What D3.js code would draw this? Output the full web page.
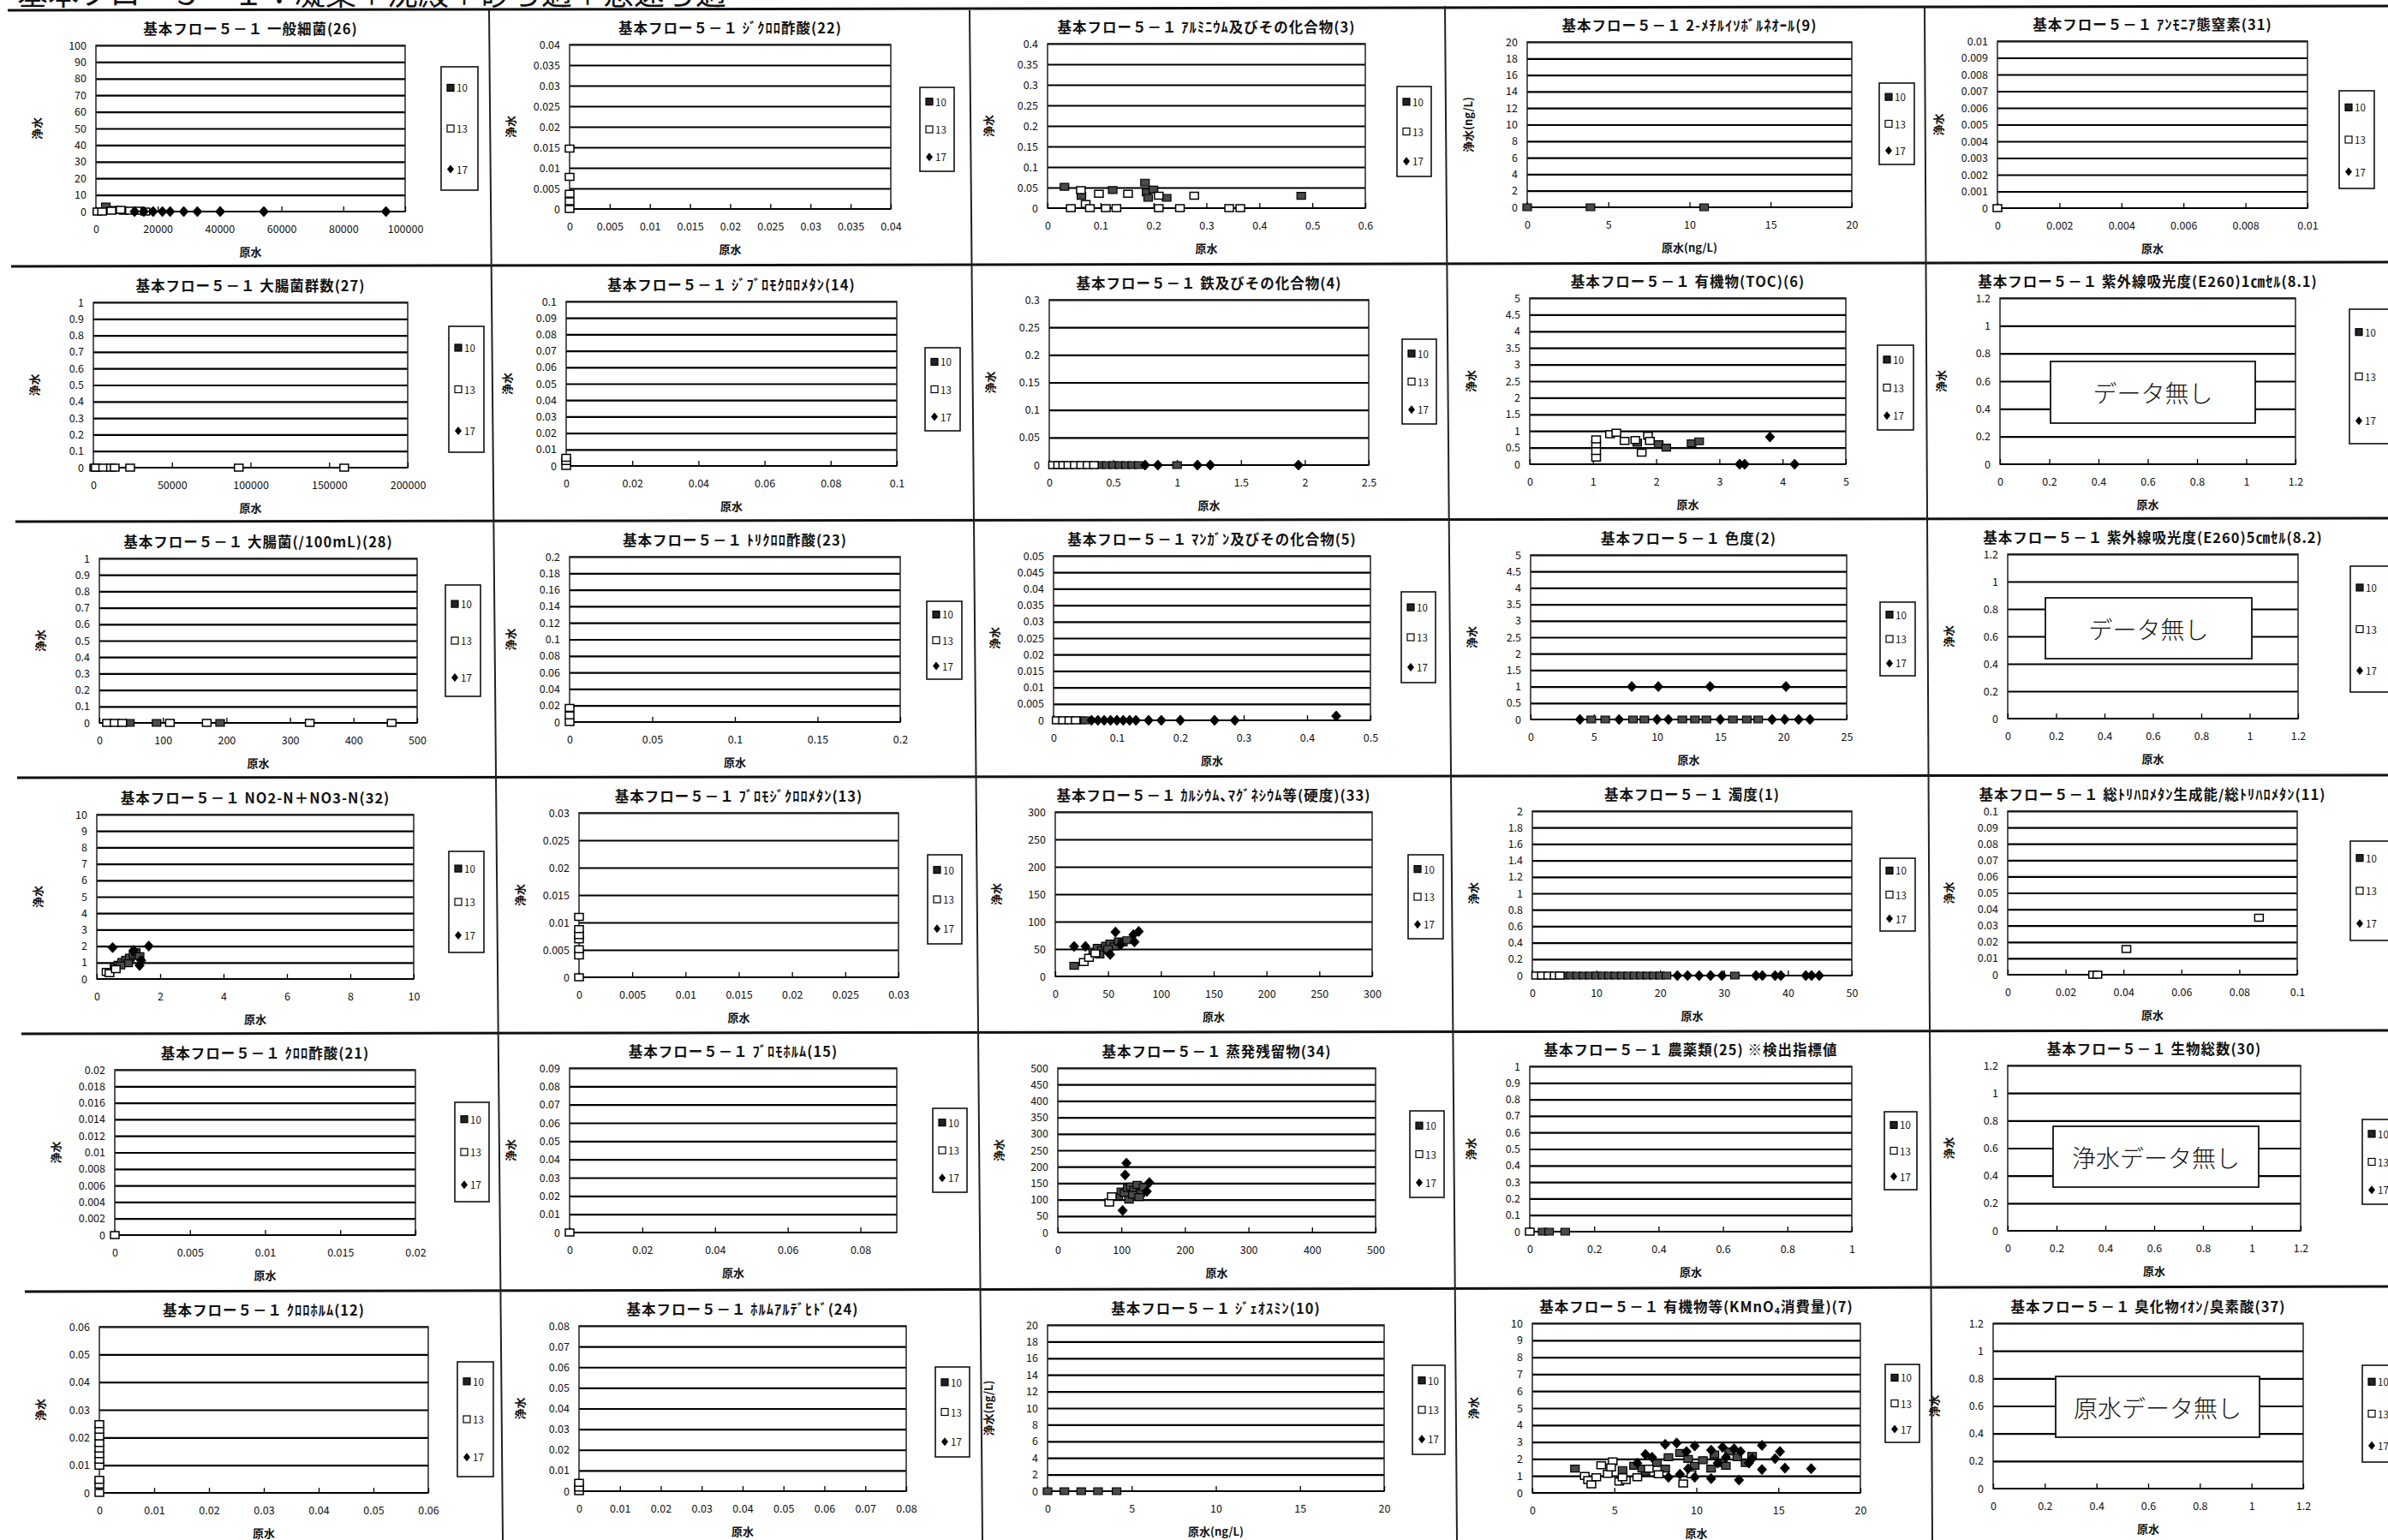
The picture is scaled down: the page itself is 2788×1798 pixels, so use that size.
<!DOCTYPE html>
<html><head><meta charset="utf-8">
<script src="https://cdn.jsdelivr.net/npm/d3@7"></script>
<style>
body{margin:0;background:#fff;}
text{font-family:"Noto Sans CJK JP","Noto Sans",sans-serif;fill:#111;}
</style></head><body>
<svg id="c" width="2788" height="1798" xmlns="http://www.w3.org/2000/svg"></svg>
<script>
// ---------------- DATA ----------------
const pageTitle = "基本フロー５－１：凝集＋沈殿＋砂ろ過＋急速ろ過";
const legendLabels = ["10", "13", "17"];

const titles = [
  "基本フロー５－１ 一般細菌(26)", "基本フロー５－１ ｼﾞｸﾛﾛ酢酸(22)", "基本フロー５－１ ｱﾙﾐﾆｳﾑ及びその化合物(3)", "基本フロー５－１ 2-ﾒﾁﾙｲｿﾎﾞﾙﾈｵｰﾙ(9)", "基本フロー５－１ ｱﾝﾓﾆｱ態窒素(31)",
  "基本フロー５－１ 大腸菌群数(27)", "基本フロー５－１ ｼﾞﾌﾞﾛﾓｸﾛﾛﾒﾀﾝ(14)", "基本フロー５－１ 鉄及びその化合物(4)", "基本フロー５－１ 有機物(TOC)(6)", "基本フロー５－１ 紫外線吸光度(E260)1㎝ｾﾙ(8.1)",
  "基本フロー５－１ 大腸菌(/100mL)(28)", "基本フロー５－１ ﾄﾘｸﾛﾛ酢酸(23)", "基本フロー５－１ ﾏﾝｶﾞﾝ及びその化合物(5)", "基本フロー５－１ 色度(2)", "基本フロー５－１ 紫外線吸光度(E260)5㎝ｾﾙ(8.2)",
  "基本フロー５－１ NO2-N＋NO3-N(32)", "基本フロー５－１ ﾌﾞﾛﾓｼﾞｸﾛﾛﾒﾀﾝ(13)", "基本フロー５－１ ｶﾙｼｳﾑ､ﾏｸﾞﾈｼｳﾑ等(硬度)(33)", "基本フロー５－１ 濁度(1)", "基本フロー５－１ 総ﾄﾘﾊﾛﾒﾀﾝ生成能/総ﾄﾘﾊﾛﾒﾀﾝ(11)",
  "基本フロー５－１ ｸﾛﾛ酢酸(21)", "基本フロー５－１ ﾌﾞﾛﾓﾎﾙﾑ(15)", "基本フロー５－１ 蒸発残留物(34)", "基本フロー５－１ 農薬類(25) ※検出指標値", "基本フロー５－１ 生物総数(30)",
  "基本フロー５－１ ｸﾛﾛﾎﾙﾑ(12)", "基本フロー５－１ ﾎﾙﾑｱﾙﾃﾞﾋﾄﾞ(24)", "基本フロー５－１ ｼﾞｪｵｽﾐﾝ(10)", "基本フロー５－１ 有機物等(KMnO₄消費量)(7)", "基本フロー５－１ 臭化物ｲｵﾝ/臭素酸(37)"
];
const xTitles = ["原水","原水","原水","原水(ng/L)","原水", "原水","原水","原水","原水","原水", "原水","原水","原水","原水","原水",
  "原水","原水","原水","原水","原水", "原水","原水","原水","原水","原水", "原水","原水","原水(ng/L)","原水","原水"];
const yTitles = ["浄水","浄水","浄水","浄水(ng/L)","浄水", "浄水","浄水","浄水","浄水","浄水", "浄水","浄水","浄水","浄水","浄水",
  "浄水","浄水","浄水","浄水","浄水", "浄水","浄水","浄水","浄水","浄水", "浄水","浄水","浄水(ng/L)","浄水","浄水"];
const xMax  = [100000,0.04,0.6,20,0.01, 200000,0.1,2.5,5,1.2, 500,0.2,0.5,25,1.2, 10,0.03,300,50,0.1, 0.02,0.09,500,1,1.2, 0.06,0.08,20,20,1.2];
const xStep = [20000,0.005,0.1,5,0.002, 50000,0.02,0.5,1,0.2, 100,0.05,0.1,5,0.2, 2,0.005,50,10,0.02, 0.005,0.02,100,0.2,0.2, 0.01,0.01,5,5,0.2];
const yMax  = [100,0.04,0.4,20,0.01, 1,0.1,0.3,5,1.2, 1,0.2,0.05,5,1.2, 10,0.03,300,2,0.1, 0.02,0.09,500,1,1.2, 0.06,0.08,20,10,1.2];
const yStep = [10,0.005,0.05,2,0.001, 0.1,0.01,0.05,0.5,0.2, 0.1,0.02,0.005,0.5,0.2, 1,0.005,50,0.2,0.01, 0.002,0.01,50,0.1,0.2, 0.01,0.01,2,1,0.2];
const noDataText = {9:"データ無し", 14:"データ無し", 24:"浄水データ無し", 29:"原水データ無し"};

// series per panel: [x(原水), y(浄水)]
const ippan10 = [[3200,3],[6000,1],[9000,0.5]];
const ippan13 = [[500,0],[2000,0],[5000,0.5],[8000,1],[11000,0.5],[14000,0.5],[16000,0]];
const ippan17 = [[12500,0],[15500,0],[18500,0],[21500,0],[24000,0],[28400,0],[32800,0],[40200,0],[54300,0],[93800,0]];
const dca13 = [[0,0],[0,0.0019],[0,0.0037],[0,0.0078],[0,0.0147]];
const al10 = [[0.032,0.052],[0.064,0.03],[0.123,0.044],[0.184,0.062],[0.187,0.038],[0.19,0.025],[0.2,0.045],[0.225,0.025],[0.479,0.03]];
const al13 = [[0.044,0],[0.063,0.044],[0.072,0.01],[0.08,0],[0.097,0.035],[0.11,0],[0.13,0],[0.152,0.035],[0.21,0],[0.21,0.03],[0.25,0],[0.277,0.03],[0.343,0],[0.364,0]];
const mib10 = [[0,0],[3.9,0],[10.9,0]];
const nh413 = [[0,0]];
const coli10 = [[500,0],[2000,0]];
const coli13 = [[1500,0],[6300,0],[11200,0],[13600,0],[23400,0],[92500,0],[159600,0]];
const dbcm13 = [[0,0],[0,0.003],[0,0.005]];
const fe10 = [[0.4,0],[0.45,0],[0.5,0],[0.55,0],[0.6,0],[0.65,0],[0.7,0],[1.0,0]];
const fe13 = [[0.03,0],[0.07,0],[0.11,0],[0.15,0],[0.2,0],[0.25,0],[0.3,0],[0.35,0]];
const fe17 = [[0.75,0],[0.85,0],[1.16,0],[1.26,0],[1.95,0]];
const toc10 = [[1.7,0.65],[2.04,0.6],[2.16,0.5],[2.56,0.63],[2.68,0.69]];
const toc13 = [[1.05,0.2],[1.05,0.4],[1.05,0.6],[1.05,0.75],[1.27,0.9],[1.37,0.95],[1.5,0.7],[1.67,0.73],[1.77,0.35],[1.87,0.86],[1.9,0.7]];
const toc17 = [[3.32,0],[3.4,0],[3.8,0.82],[4.19,0]];
const ecoli10 = [[48,0],[90,0],[190,0]];
const ecoli13 = [[12,0],[24,0],[36,0],[111,0],[169,0],[331,0],[460,0]];
const tca13 = [[0,0],[0,0.008],[0,0.017]];
const mn10 = [[0.045,0],[0.05,0]];
const mn13 = [[0.005,0],[0.015,0],[0.025,0],[0.035,0]];
const mn17 = [[0.06,0],[0.07,0],[0.08,0],[0.09,0],[0.1,0],[0.11,0],[0.12,0],[0.13,0],[0.15,0],[0.17,0],[0.2,0],[0.254,0],[0.286,0],[0.446,0.0013]];
const color10 = [[4.8,0],[5.9,0],[8.1,0],[9.0,0],[12.0,0],[13.0,0],[13.9,0],[16.0,0],[17.1,0],[18.0,0]];
const color17 = [[3.9,0],[7.0,0],[10.0,0],[10.9,0],[15.0,0],[19.1,0],[20.1,0],[21.2,0],[22.1,0],[8.0,1],[10.1,1],[14.2,1],[20.2,1]];
const no310 = [[0.56,0.75],[0.68,0.87],[0.8,1.04],[0.92,1.17],[1.04,1.3],[1.16,1.48],[1.23,1.62],[1.35,1.39],[0.99,0.96],[0.75,0.82]];
const no313 = [[0.31,0.43],[0.4,0.35],[0.6,0.6]];
const no317 = [[0.5,1.91],[1.64,2.0],[1.35,0.82],[1.16,1.74],[1.4,1.13]];
const bdcm13 = [[0,0],[0,0.004],[0,0.0051],[0,0.0069],[0,0.0077],[0,0.0088],[0,0.011]];
const hard10 = [[17.9,19.3],[36,45],[40,52],[44,48],[48,56],[52,60],[56,55],[60,64],[64,62],[68,66],[42,40],[50,50]];
const hard13 = [[27,26],[32,34],[38,42]];
const hard17 = [[17.9,54.8],[28.6,54.8],[52,40],[57,81],[74,76],[75,63],[79,82],[62,58]];
const turb10 = [[5,0],[6,0],[7,0],[8,0],[9,0],[10,0],[11,0],[12,0],[13,0],[14,0],[15,0],[16,0],[17,0],[18,0],[19,0],[20,0],[21,0],[31.7,0]];
const turb13 = [[0.6,0],[1.5,0],[2.5,0],[3.5,0],[4.3,0]];
const turb17 = [[22.7,0],[24.3,0],[26.1,0],[27.9,0],[29.7,0],[35,0],[36,0],[38,0],[38.9,0],[42.8,0],[43.7,0],[44.9,0]];
const thm13 = [[0.0295,0],[0.031,0],[0.041,0.0157],[0.0868,0.0348]];
const mca13 = [[0,0]];
const tbm13 = [[0,0]];
const evap10 = [[95,110],[100,125],[105,120],[110,135],[115,140],[120,130],[125,145],[130,120],[135,138],[112,100],[118,115],[128,108]];
const evap13 = [[81,91],[85,110]];
const evap17 = [[108,211],[106,175],[144,152],[102,67],[140,125]];
const pest10 = [[0.04,0],[0.06,0],[0.11,0]];
const pest13 = [[0,0]];
const cf13 = [[0,0],[0,0.003],[0,0.0047],[0,0.0098],[0,0.012],[0,0.014],[0,0.016],[0,0.018],[0,0.0204],[0,0.0228],[0,0.0248]];
const form13 = [[0,0],[0,0.0018],[0,0.004]];
const geo10 = [[0,0],[1,0],[2,0],[3,0],[4.1,0]];
const kmn10 = [[2.6,1.43],[5.5,1.35],[6.2,1.6],[6.9,1.26],[7.6,1.76],[8.3,2.1],[9.0,2.35],[9.5,2.0],[9.9,1.6],[10.4,1.93],[11.1,2.27],[11.6,1.76],[12.0,2.44],[12.5,2.1],[13.0,1.76],[13.4,2.18],[6.7,1.43],[8.1,1.43],[10.9,1.43],[11.8,1.6]];
const kmn13 = [[3.2,1.0],[3.4,0.76],[3.6,0.5],[4.2,1.63],[4.6,1.13],[4.9,1.85],[5.3,0.67],[5.7,0.76],[6.4,0.92],[7.1,1.43],[7.7,1.1],[9.2,0.55],[9.7,1.1],[3.9,0.92],[4.8,1.5],[5.5,0.92]];
const kmn17 = [[8.1,2.86],[8.8,2.94],[7.3,2.1],[8.3,0.92],[9.4,2.44],[9.9,2.77],[10.9,2.52],[11.6,2.69],[12.3,2.6],[12.7,2.44],[13.4,2.02],[14.0,2.8],[14.0,1.38],[14.8,2.02],[15.1,2.44],[15.4,1.46],[17.0,1.43],[9.9,0.92],[10.9,0.84],[12.6,0.76],[6.4,1.76],[6.9,2.27],[9.0,1.1],[11.8,2.1],[11.3,1.76],[9.5,1.43],[13.2,1.76]];

const series10 = [ippan10,[],al10,mib10,[], coli10,[],fe10,toc10,[], ecoli10,[],mn10,color10,[], no310,[],hard10,turb10,[], [],[],evap10,pest10,[], [],[],geo10,kmn10,[]];
const series13 = [ippan13,dca13,al13,[],nh413, coli13,dbcm13,fe13,toc13,[], ecoli13,tca13,mn13,[],[], no313,bdcm13,hard13,turb13,thm13, mca13,tbm13,evap13,pest13,[], cf13,form13,[],kmn13,[]];
const series17 = [ippan17,[],[],[],[], [],[],fe17,toc17,[], [],[],mn17,color17,[], no317,[],hard17,turb17,[], [],[],evap17,[],[], [],[],[],kmn17,[]];

// ---------------- LAYOUT (positions only) ----------------
const plotBoxes = [
 [112,473,53,247],[665,1040,52,244],[1223,1594,51,243],[1783,2162,49,242],[2332,2694,48,243],
 [109,476,353,546],[661,1047,352,544],[1225,1598,350,543],[1786,2155,348,542],[2335,2680,348,542],
 [116,487,652,844],[665,1051,650,843],[1230,1600,649,841],[1787,2156,648,840],[2344,2683,647,839],
 [113,483,951,1143],[676,1049,949,1141],[1232,1602,948,1140],[1789,2162,947,1139],[2344,2682,947,1138],
 [134,485,1249,1442],[665,1047,1247,1439],[1235,1606,1247,1439],[1786,2162,1245,1438],[2344,2686,1244,1437],
 [116,500,1549,1743],[676,1058,1548,1741],[1223,1616,1547,1741],[1789,2172,1545,1743],[2327,2689,1545,1738]];
const legendBoxes = [
 [515,558,78,222],[1074,1114,102,200],[1631,1671,101,206],[2194,2235,97,192],[2731,2772,106,220],
 [524,565,381,528],[1080,1121,406,503],[1637,1677,396,495],[2192,2234,403,502],[2743,2792,361,518],
 [520,561,683,813],[1082,1123,702,793],[1636,1676,691,797],[2195,2236,703,789],[2744,2792,661,808],
 [524,565,994,1112],[1083,1123,998,1102],[1644,1685,998,1096],[2195,2236,1002,1087],[2744,2792,982,1098],
 [531,571,1287,1403],[1089,1129,1294,1392],[1646,1686,1297,1398],[2200,2238,1298,1389],[2758,2800,1307,1406],
 [534,576,1590,1724],[1092,1132,1596,1701],[1649,1687,1594,1698],[2201,2241,1593,1684],[2758,2800,1594,1707]];
const noDataBoxes = {9:[2394,2633,422,494], 14:[2388,2629,698,769], 24:[2397,2637,1315,1386], 29:[2400,2638,1607,1678]};
const rowLines = [[9,12,7],[13,311,306],[18,609,605],[20,908,905],[25,1207,1203],[29,1508,1502]];
const colLines = [[571,12,587],[1132,12,1147],[1687,7,1701],[2247,7,2256]];

// ---------------- DRAW ----------------
const svg = d3.select("#c");
svg.append("rect").attr("width",2788).attr("height",1798).attr("fill","#fff");
const fmt = v => String(+v.toFixed(6));
const ticksOf = (max, step) => d3.range(0, Math.floor(max/step + 1e-6) + 1).map(k => +(k*step).toFixed(8));

svg.append("text").attr("x",20).attr("y",6).attr("font-size",36).text(pageTitle);

rowLines.forEach(([x,yl,yr]) => svg.append("line").attr("x1",x).attr("y1",yl).attr("x2",2788).attr("y2",yr).attr("stroke","#111").attr("stroke-width",3));
colLines.forEach(([x,y,xb]) => svg.append("line").attr("x1",x).attr("y1",y).attr("x2",xb).attr("y2",1798).attr("stroke","#222").attr("stroke-width",2));

const sqPath = "M-5,-4H5V4H-5Z";
const diaPath = "M0,-6L5.5,0L0,6L-5.5,0Z";

titles.forEach((title, i) => {
  const [x0,x1,y0,y1] = plotBoxes[i];
  const xs = d3.scaleLinear().domain([0, xMax[i]]).range([x0, x1]);
  const ys = d3.scaleLinear().domain([0, yMax[i]]).range([y1, y0]);
  const xt = ticksOf(xMax[i], xStep[i]);
  const yt = ticksOf(yMax[i], yStep[i]);
  const g = svg.append("g");

  g.append("rect").attr("x",x0).attr("y",y0).attr("width",x1-x0).attr("height",y1-y0).attr("fill","#fff");

  g.append("g").attr("transform",`translate(${x0},0)`)
    .call(d3.axisLeft(ys).tickValues(yt.filter(v => v > 0)).tickSize(-(x1-x0)).tickFormat(""))
    .call(s => s.select(".domain").remove())
    .selectAll("line").attr("stroke","#000").attr("stroke-width",2.2);

  g.append("rect").attr("x",x0).attr("y",y0).attr("width",x1-x0).attr("height",y1-y0)
    .attr("fill","none").attr("stroke","#222").attr("stroke-width",1.5);
  g.append("line").attr("x1",x0).attr("x2",x1).attr("y1",y1).attr("y2",y1).attr("stroke","#000").attr("stroke-width",2.2);

  g.append("g").attr("transform",`translate(${x0},0)`)
    .call(d3.axisLeft(ys).tickValues(yt).tickSize(0).tickPadding(11).tickFormat(fmt))
    .call(s => s.select(".domain").remove())
    .attr("font-size",12.5).attr("font-family","'Noto Sans CJK JP','Noto Sans',sans-serif");

  g.append("g").attr("transform",`translate(0,${y1})`)
    .call(d3.axisBottom(xs).tickValues(xt).tickSize(-6).tickFormat(""))
    .call(s => s.select(".domain").remove())
    .selectAll("line").attr("stroke","#000").attr("stroke-width",1.3);
  g.append("g").attr("transform",`translate(0,${y1})`)
    .call(d3.axisBottom(xs).tickValues(xt).tickSize(0).tickPadding(16).tickFormat(fmt))
    .call(s => s.select(".domain").remove())
    .attr("font-size",12.5).attr("font-family","'Noto Sans CJK JP','Noto Sans',sans-serif");

  g.append("text").attr("x",(x0+x1)/2).attr("y",y0-20).attr("text-anchor","middle").attr("dominant-baseline","central")
    .attr("font-size",16.5).attr("letter-spacing",1).attr("font-weight",600).text(title);
  g.append("text").attr("x",(x0+x1)/2).attr("y",y1+46).attr("text-anchor","middle").attr("dominant-baseline","central")
    .attr("font-size",13).attr("font-weight",700).text(xTitles[i]);
  const yc = (y0+y1)/2, xc = x0-70;
  g.append("text").attr("transform",`translate(${xc},${yc}) rotate(-90)`).attr("text-anchor","middle").attr("dominant-baseline","central")
    .attr("font-size",13).attr("font-weight",700).text(yTitles[i]);

  const clip = "clip" + i;
  g.append("clipPath").attr("id",clip).append("rect").attr("x",x0-8).attr("y",y0-8).attr("width",x1-x0+16).attr("height",y1-y0+16);
  const mk = g.append("g").attr("clip-path",`url(#${clip})`);
  mk.selectAll(".s10").data(series10[i]).join("path").attr("d",sqPath)
    .attr("transform",d => `translate(${xs(d[0])},${ys(d[1])})`).attr("fill","#4a4a4a").attr("stroke","#000").attr("stroke-width",1.2);
  mk.selectAll(".s13").data(series13[i]).join("path").attr("d",sqPath)
    .attr("transform",d => `translate(${xs(d[0])},${ys(d[1])})`).attr("fill","#fff").attr("stroke","#000").attr("stroke-width",1.5);
  mk.selectAll(".s17").data(series17[i]).join("path").attr("d",diaPath)
    .attr("transform",d => `translate(${xs(d[0])},${ys(d[1])})`).attr("fill","#000").attr("stroke","#000").attr("stroke-width",0.8);

  const [lx0,lx1,ly0,ly1] = legendBoxes[i];
  const lg = g.append("g");
  lg.append("rect").attr("x",lx0).attr("y",ly0).attr("width",lx1-lx0).attr("height",ly1-ly0)
    .attr("fill","#fff").attr("stroke","#111").attr("stroke-width",1.6);
  const lh = ly1 - ly0;
  const lyPos = [ly0 + lh*0.17, ly0 + lh*0.5, ly0 + lh*0.83];
  legendLabels.forEach((lab, k) => {
    const sx = lx0 + 11, sy = lyPos[k];
    if (k === 2) lg.append("path").attr("d","M0,-5L4,0L0,5L-4,0Z").attr("transform",`translate(${sx},${sy})`).attr("fill","#000");
    else lg.append("rect").attr("x",sx-4).attr("y",sy-4).attr("width",8).attr("height",8)
      .attr("fill", k===0 ? "#222" : "#fff").attr("stroke","#000").attr("stroke-width",1.2);
    lg.append("text").attr("x",sx+7).attr("y",sy).attr("dominant-baseline","central").attr("font-size",11.5).text(lab);
  });

  if (noDataBoxes[i]) {
    const [bx0,bx1,by0,by1] = noDataBoxes[i];
    g.append("rect").attr("x",bx0).attr("y",by0).attr("width",bx1-bx0).attr("height",by1-by0)
      .attr("fill","#fff").attr("stroke","#111").attr("stroke-width",1.8);
    g.append("text").attr("x",(bx0+bx1)/2).attr("y",(by0+by1)/2).attr("text-anchor","middle").attr("dominant-baseline","central")
      .attr("font-size",28).attr("font-weight",300).text(noDataText[i]);
  }
});
</script>
</body></html>
